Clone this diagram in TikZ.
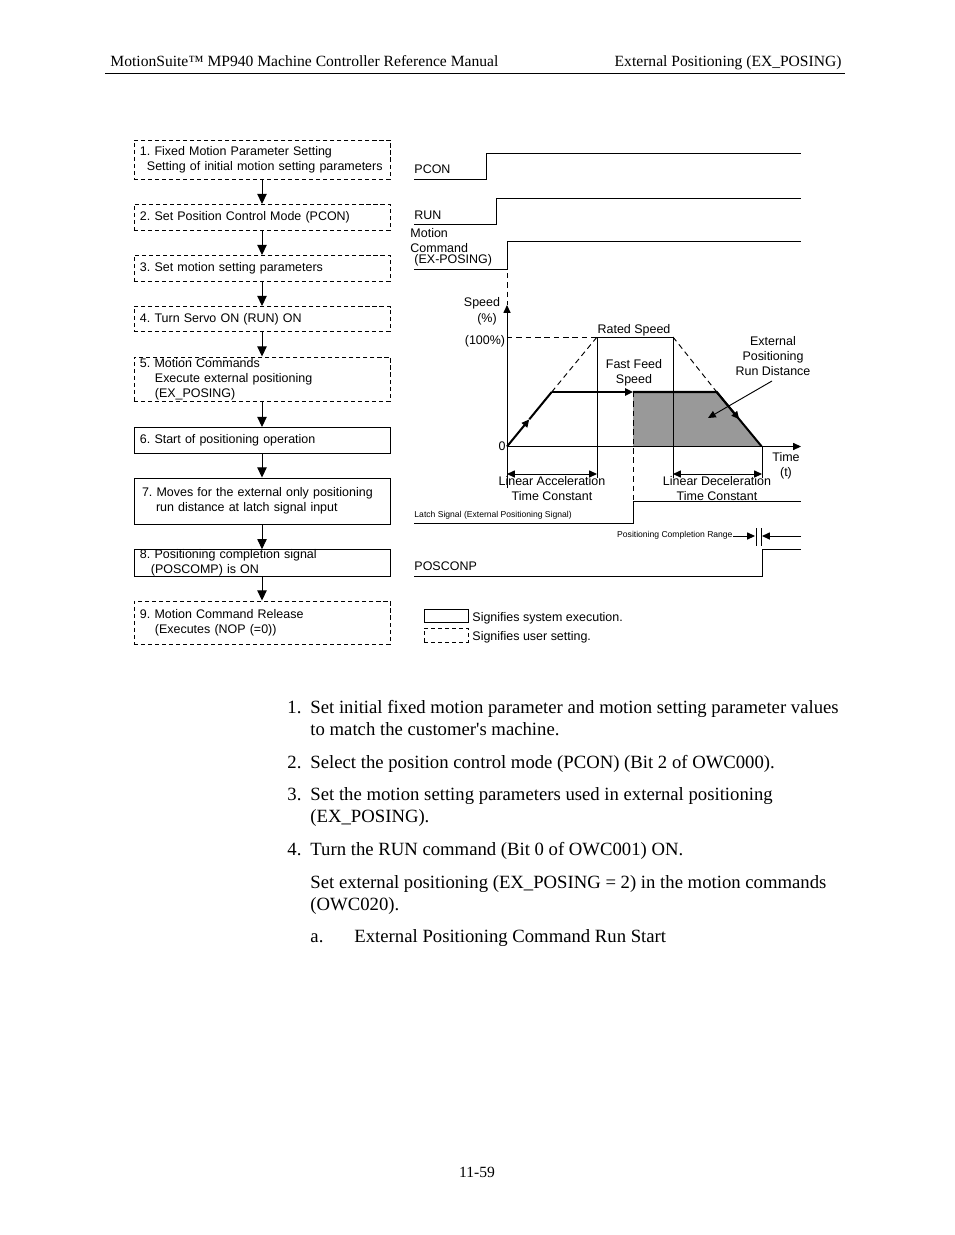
\documentclass[tikz,border=0pt]{standalone}
\usepackage{fontspec}
\setmainfont{Liberation Serif}
\setsansfont{Liberation Sans}
\usetikzlibrary{arrows.meta}
\definecolor{runfill}{gray}{0.6}
\newcommand{\pxu}{0.6417pt}
\frenchspacing

\begin{document}
\begin{tikzpicture}[x=0.6417pt, y=-0.6417pt, line width=0.6pt, >={Triangle[length=5pt, width=4.5pt]},
	sys box/.style={rectangle, draw, inner xsep=3.85pt, inner ysep=0pt, text width=156.6pt, align=left, font=\sffamily\fontsize{8}{9.6}\selectfont},
	user box/.style={sys box, dash pattern=on 2.6pt off 1.9pt},
	flow/.style={-{Triangle[length=6.5pt, width=6pt]}},
	lbl/.style={font=\sffamily\fontsize{8}{9.6}\selectfont, inner sep=0pt},
	tiny lbl/.style={font=\sffamily\fontsize{5.5}{6.6}\selectfont, inner sep=0pt},
	body/.style={font=\fontsize{12}{14}\selectfont, anchor=base west, inner sep=0pt},
	head/.style={font=\fontsize{10}{12}\selectfont, inner sep=0pt},
	guide/.style={dash pattern=on 3.5pt off 2.5pt},
	speed/.style={line width=1.3pt}]
\useasboundingbox (0,0) rectangle (954,1235);

\path	(110, 66)	node(hdr_left)	[head, anchor=base west]	{MotionSuite™ MP940 Machine Controller Reference Manual}
		(842, 66)	node(hdr_right)	[head, anchor=base east]	{External Positioning (EX\_POSING)};
\draw	(105, 73) -- (845, 73);

\path	(262, 159.5)	node(fixed_param)	[user box, minimum height=39*\pxu]	{1. Fixed Motion Parameter Setting\\\hspace*{4.5pt}Setting of initial motion setting parameters}
		(262, 217.5)	node(pcon_mode)		[user box, minimum height=26*\pxu]	{2. Set Position Control Mode (PCON)}
		(262, 268.5)	node(set_param)		[user box, minimum height=26*\pxu]	{3. Set motion setting parameters}
		(262, 319)		node(servo_on)		[user box, minimum height=25*\pxu]	{4. Turn Servo ON (RUN) ON}
		(262, 379)		node(motion_cmd)	[user box, minimum height=44*\pxu]	{5. Motion Commands\\\hspace*{9.6pt}Execute external positioning\\\hspace*{9.6pt}(EX\_POSING)}
		(262, 440.5)	node(pos_start)		[sys box, minimum height=26*\pxu]	{6. Start of positioning operation}
		(262, 501)		node(ext_move)		[sys box, minimum height=46*\pxu]	{\hspace*{1.3pt}7. Moves for the external only positioning\\\hspace*{10.3pt}run distance at latch signal input}
		(262, 563)		node(pos_done)		[sys box, minimum height=26*\pxu]	{8. Positioning completion signal\\\hspace*{7pt}(POSCOMP) is ON}
		(262, 622.5)	node(cmd_release)	[user box, minimum height=43*\pxu]	{9. Motion Command Release\\\hspace*{9.6pt}(Executes (NOP (=0))};

\draw[flow]	(fixed_param)	--	(pcon_mode);
\draw[flow]	(pcon_mode)		--	(set_param);
\draw[flow]	(set_param)		--	(servo_on);
\draw[flow]	(servo_on)		--	(motion_cmd);
\draw[flow]	(motion_cmd)	--	(pos_start);
\draw[flow]	(pos_start)		--	(ext_move);
\draw[flow]	(ext_move)		--	(pos_done);
\draw[flow]	(pos_done)		--	(cmd_release);

\path	(414, 173)		node(pcon_lbl)		[lbl, anchor=base west]	{PCON}
		(414, 219)		node(run_lbl)		[lbl, anchor=base west]	{RUN}
		(410, 237)		node(motion_lbl)	[lbl, anchor=base west]	{Motion}
		(410, 252)		node(command_lbl)	[lbl, anchor=base west]	{Command}
		(414, 263)		node(exposing_lbl)	[lbl, anchor=base west]	{(EX-POSING)}
		(482, 306.5)	node(speed_lbl)		[lbl, anchor=base]		{Speed}
		(487, 322)		node(pct_lbl)		[lbl, anchor=base]		{(\%)}
		(485, 344.5)	node(full_lbl)		[lbl, anchor=base]		{(100\%)}
		(634, 333)		node(rated_lbl)		[lbl, anchor=base]		{Rated Speed}
		(634, 373)		node(feed_lbl)		[lbl, align=center]		{Fast Feed\\Speed}
		(773, 356)		node(ext_dist)		[lbl, align=center]		{External\\Positioning\\Run Distance}
		(502, 450)		node(zero_lbl)		[lbl, anchor=base]		{0}
		(786, 466)		node(time_lbl)		[lbl, align=center]		{Time\\(t)}
		(552, 488.5)	node(acc_lbl)		[lbl, align=center]		{Linear Acceleration\\Time Constant}
		(717, 488.5)	node(dec_lbl)		[lbl, align=center]		{Linear Deceleration\\Time Constant}
		(414, 517.5)	node(latch_lbl)		[tiny lbl, anchor=base west]	{Latch Signal (External Positioning Signal)}
		(733, 537.5)	node(range_lbl)		[tiny lbl, anchor=base east]	{Positioning Completion Range}
		(414, 570)		node(posconp_lbl)	[lbl, anchor=base west]	{POSCONP};

\draw	(414, 179) -| (486, 153) -- (801, 153);
\draw	(414, 224) -| (496, 198) -- (801, 198);
\draw	(414, 269) -| (507, 241) -- (801, 241);
\draw	(414, 523) -| (633, 501) -- (801, 501);
\draw	(414, 576) -| (762, 549) -- (801, 549);

\fill[runfill]	(633, 392) -- (716.7, 392) -- (761.7, 446.5) -- (633, 446.5) -- cycle;
\draw[guide]	(507, 273) -- (507, 305);
\draw[->]		(507, 488) -- (507, 305);
\draw[->]		(507, 446.5) -- (801, 446.5);
\draw[guide]	(507, 337) -- (597, 337);
\draw			(597, 478) -- (597, 337) -- (673, 337) -- (673, 478);
\draw			(762, 446.5) -- (762, 478);
\draw[guide]	(551.7, 392) -- (597, 337);
\draw[guide]	(673, 337) -- (716.7, 392);
\draw[guide]	(633, 392) -- (633, 501);
\draw[speed, ->]	(507, 446.5) -- (529.3, 419.3);
\draw[speed]		(529.3, 419.3) -- (551.7, 392);
\draw[speed, ->]	(551.7, 392) -- (633, 392);
\draw[speed]		(633, 392) -- (716.7, 392) -- (761.7, 446.5);
\draw[speed, ->]	(716.7, 392) -- (739.2, 419.3);
\draw[->]		(ext_dist.south) ++(-1, 5) -- (708, 418);
\draw[<->]		(507, 474) -- (597, 474);
\draw[<->]		(673, 474) -- (762, 474);

\draw[->]	(range_lbl.east |- 0, 536) -- (755, 536);
\draw		(756, 528) -- (756, 546)
			(761, 528) -- (761, 546);
\draw[->]	(801, 536) -- (762, 536);

\path	(446, 615.5)	node(sys_key)	[draw, minimum width=44*\pxu, minimum height=13*\pxu, inner sep=0pt]	{}
		(446, 635)		node(user_key)	[draw, dash pattern=on 2.6pt off 1.9pt, minimum width=44*\pxu, minimum height=14*\pxu, inner sep=0pt]	{}
		(472, 621)		node(sys_txt)	[lbl, anchor=base west]	{Signifies system execution.}
		(472, 640)		node(user_txt)	[lbl, anchor=base west]	{Signifies user setting.};

\path	(287, 713)	node(item1_num)	[body]	{1.}
		(310, 713)	node(item1)		[body]	{Set initial fixed motion parameter and motion setting parameter values}
		(310, 735)	node(item1_b)	[body]	{to match the customer\textquotesingle s machine.}
		(287, 768)	node(item2_num)	[body]	{2.}
		(310, 768)	node(item2)		[body]	{Select the position control mode (PCON) (Bit 2 of OWC000).}
		(287, 800)	node(item3_num)	[body]	{3.}
		(310, 800)	node(item3)		[body]	{Set the motion setting parameters used in external positioning}
		(310, 822)	node(item3_b)	[body]	{(EX\_POSING).}
		(287, 855)	node(item4_num)	[body]	{4.}
		(310, 855)	node(item4)		[body]	{Turn the RUN command (Bit 0 of OWC001) ON.}
		(310, 888)	node(note)		[body]	{Set external positioning (EX\_POSING = 2) in the motion commands}
		(310, 910)	node(note_b)	[body]	{(OWC020).}
		(310, 942)	node(sub_a)		[body]	{a.}
		(354, 942)	node(sub_a_txt)	[body]	{External Positioning Command Run Start}
		(477, 1177)	node(page_no)	[head, anchor=base]	{11-59};
\end{tikzpicture}
\end{document}
